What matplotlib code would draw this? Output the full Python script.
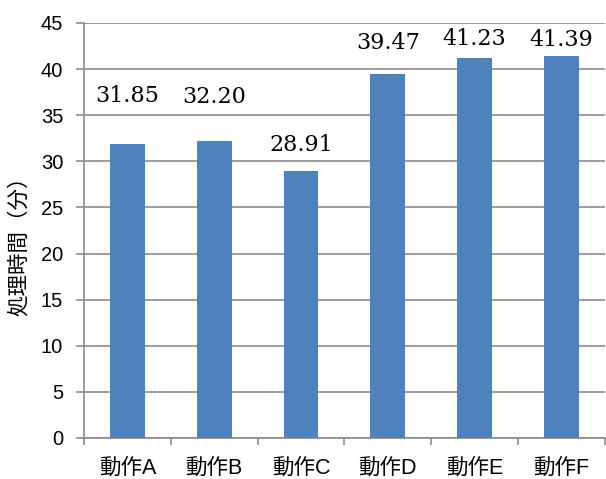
import matplotlib.pyplot as plt
import numpy as np

# データ
categories = ["動作A", "動作B", "動作C", "動作D", "動作E", "動作F"]
values = [31.85, 32.20, 28.91, 39.47, 41.23, 41.39]
value_labels = ["31.85", "32.20", "28.91", "39.47", "41.23", "41.39"]
yticks = [0, 5, 10, 15, 20, 25, 30, 35, 40, 45]

# ラベルの高さ（元図では手動配置）
label_offset = [5.2, 4.8, 2.9, 3.4, 2.0, 1.8]

fig = plt.figure(figsize=(6.06, 4.79), dpi=100)
ax = fig.add_axes([0.1386, 0.0856, 0.8594, 0.8664])

x = np.arange(len(categories))
ax.bar(x, values, width=0.4, color="#4F81BD", zorder=3)

for xi, v, lab, off in zip(x, values, value_labels, label_offset):
    ax.text(xi, v + off, lab, ha="center", va="center",
            family="DejaVu Serif", fontsize=16, zorder=4)

ax.set_xlim(-0.5, len(categories) - 0.5)
ax.set_ylim(0, 45)
ax.set_yticks(yticks)
ax.set_yticklabels([str(t) for t in yticks], family="Liberation Sans", fontsize=14.5)
ax.yaxis.grid(True, color="#8c8c8c", linewidth=1.2, zorder=0)

# x軸：区切り位置に目盛り、ラベルは中央
ax.set_xticks(np.arange(-0.5, len(categories)), minor=False)
ax.set_xticklabels([])
ax.set_xticks(x, minor=True)
ax.set_xticklabels(categories, minor=True,
                   family=["Liberation Sans", "Noto Sans CJK JP"], fontsize=15.5)
ax.tick_params(axis="x", which="minor", length=0, pad=14)
ax.tick_params(axis="x", which="major", length=5, width=1.2, color="#8c8c8c")
ax.tick_params(axis="y", length=6, width=1.2, color="#8c8c8c", pad=9)

for s in ["top", "right"]:
    ax.spines[s].set_visible(False)
for s in ["left", "bottom"]:
    ax.spines[s].set_color("#8c8c8c")
    ax.spines[s].set_linewidth(1.2)

ax.set_ylabel("処理時間（分）", family=["Noto Sans CJK JP", "DejaVu Sans"],
              fontsize=15.5)
ax.yaxis.set_label_coords(-0.104, 0.475)

fig.savefig("out.png", dpi=100)
